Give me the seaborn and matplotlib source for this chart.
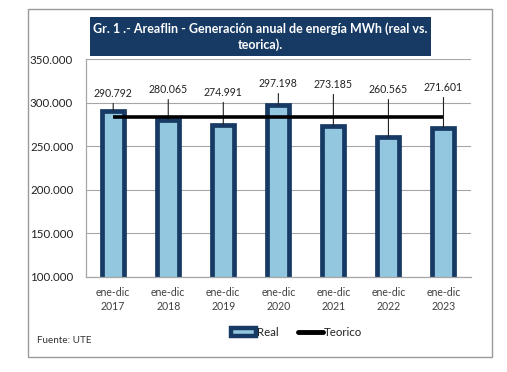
import matplotlib
matplotlib.use("Agg")
import matplotlib.pyplot as plt
import seaborn as sns
import pandas as pd
from matplotlib.patches import Rectangle
from matplotlib.ticker import FuncFormatter, MultipleLocator
from matplotlib.lines import Line2D
from matplotlib.patches import Patch

categories = ["ene-dic\n2017", "ene-dic\n2018", "ene-dic\n2019", "ene-dic\n2020",
              "ene-dic\n2021", "ene-dic\n2022", "ene-dic\n2023"]
real_values = [290792, 280065, 274991, 297198, 273185, 260565, 271601]
teorico_values = [284000, 284000, 284000, 284000, 284000, 284000, 284000]
value_labels = ["290.792", "280.065", "274.991", "297.198", "273.185", "260.565", "271.601"]
title_text = "Gr. 1 .- Areaflin - Generación anual de energía MWh (real vs.\nteorica)."

# label vertical placement (layout, data units)
label_y = [311000, 315500, 312200, 322400, 321300, 315500, 317800]

sns.set_theme(style="white")
plt.rcParams['font.family'] = ['Lato', 'DejaVu Sans']

navy = "#173a64"
fill = "#93c6df"

fig = plt.figure(figsize=(5.07, 3.72), dpi=100)
ax = fig.add_axes([0.169, 0.2554, 0.760, 0.5852])

df = pd.DataFrame({"cat": categories, "real": real_values, "teo": teorico_values})
sns.barplot(data=df, x="cat", y="real", ax=ax, color=fill, width=0.40,
            edgecolor=navy, linewidth=3.4, saturation=1)
ax.plot(range(len(categories)), df["teo"], color="black", lw=2.6, zorder=4,
        solid_capstyle="butt")

ax.set_ylim(100000, 350000)
ax.set_xlim(-0.5, 6.5)
ax.yaxis.set_major_locator(MultipleLocator(50000))
ax.yaxis.set_major_formatter(FuncFormatter(lambda v, p: f"{int(v):,}".replace(",", ".")))
ax.grid(axis="y", color="#a6a6a6", lw=0.8)
ax.set_axisbelow(True)
for s in ["top", "right"]:
    ax.spines[s].set_visible(False)
for s in ["left", "bottom"]:
    ax.spines[s].set_color("#a6a6a6")
    ax.spines[s].set_linewidth(0.9)
ax.set_xlabel("")
ax.set_ylabel("")
ax.tick_params(axis="y", labelsize=8.3, colors="#222222", length=0, pad=9)
ax.tick_params(axis="x", labelsize=7.6, labelcolor="#404040", length=0, pad=7)
for t in ax.get_xticklabels():
    t.set_linespacing(1.4)

for i, (v, lab, ly) in enumerate(zip(real_values, value_labels, label_y)):
    ax.annotate(lab, xy=(i, v), xytext=(i, ly), textcoords="data",
                ha="center", va="center", fontsize=7.6, color="#222222",
                annotation_clip=False,
                arrowprops=dict(arrowstyle="-", lw=0.8, color="#222222",
                                shrinkA=1, shrinkB=0))

# title box
fig.patches.append(Rectangle((0.1775, 0.8495), 0.6726, 0.1048, transform=fig.transFigure,
                             facecolor=navy, edgecolor="none", zorder=1))
fig.text(0.5138, 0.9019, title_text, ha="center", va="center", color="white",
         fontsize=9, fontweight="bold", linespacing=1.3)

# outer border
fig.patches.append(Rectangle((0.0552, 0.0403), 0.9148, 0.9355, transform=fig.transFigure,
                             facecolor="none", edgecolor="#9a9a9a", lw=1.0, zorder=0))

handles = [Patch(facecolor=fill, edgecolor=navy, linewidth=3.2, label="Real"),
           Line2D([0], [0], color="black", lw=3.5, label="Teorico")]
fig.legend(handles=handles, loc="center", bbox_to_anchor=(0.585, 0.105), ncol=2,
           frameon=False, fontsize=8.3, handlelength=2.2, handleheight=0.7,
           handletextpad=0.1, columnspacing=1.6, labelcolor="#222222")

fig.text(0.073, 0.086, "Fuente: UTE", fontsize=7.1, color="#333333", ha="left", va="center")

fig.savefig("out.png", dpi=100)
